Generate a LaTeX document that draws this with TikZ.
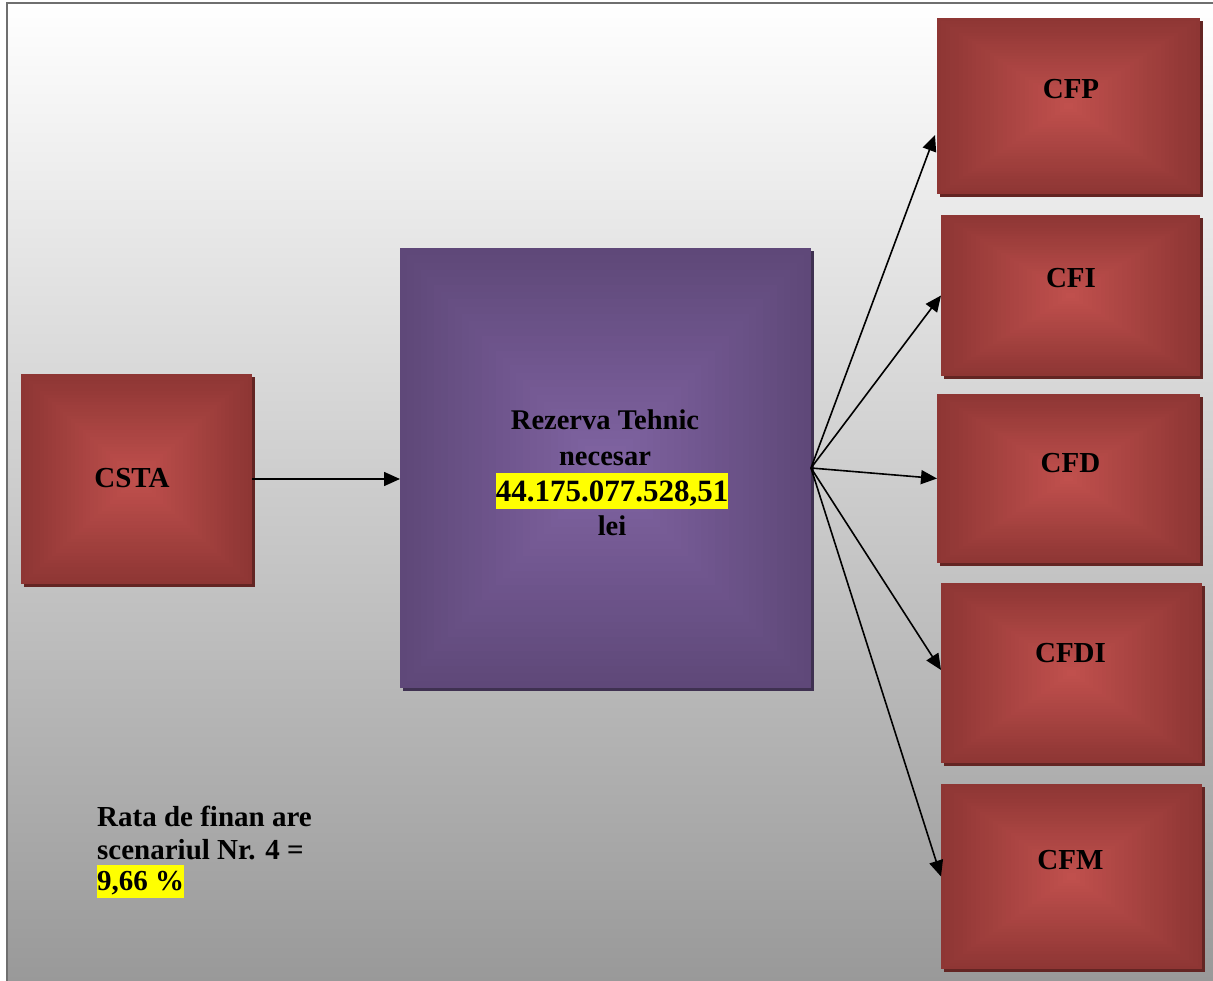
\documentclass[tikz,border=0pt]{standalone}
\usepackage{fontspec}
\setmainfont{Liberation Serif}
\usetikzlibrary{calc,arrows.meta}

\definecolor{redout}{HTML}{8E3634}
\definecolor{redin}{HTML}{C0504D}
\definecolor{redshadow}{HTML}{632523}
\definecolor{purout}{HTML}{5F4879}
\definecolor{purin}{HTML}{8064A2}
\definecolor{purshadow}{HTML}{3F3151}
\definecolor{framegray}{HTML}{6F6F6F}
\definecolor{bgmid}{HTML}{D6D6D6}
\definecolor{bgbot}{HTML}{999999}
\definecolor{hilite}{HTML}{FFFF00}

% drop shadow plus a rectangular (path-like) gradient from the rim to the centre
\newcommand\shadebox[4]{%
  \fill[#4] ([xshift=3pt,yshift=-3pt]#1.north west) rectangle ([xshift=3pt,yshift=-3pt]#1.south east);
  \foreach \k in {0,...,29}{
    \pgfmathsetmacro\shadefrac{\k/30}
    \pgfmathtruncatemacro\shadepct{100*\k/29}
    \fill[#3!\shadepct!#2] ($(#1.north west)!\shadefrac!(#1.center)$) rectangle ($(#1.south east)!\shadefrac!(#1.center)$);
  }}

\tikzset{
  panel/.style={rectangle, inner sep=0pt, outer sep=0pt},
  lbl/.style={font=\fontsize{29}{35}\selectfont\bfseries, inner sep=0pt, anchor=base},
  leftlbl/.style={lbl, anchor=base west},
  link/.style={line width=1.6pt, -{Triangle[length=16pt,width=14pt]}},
}

\begin{document}
\begin{tikzpicture}[x=1pt,y=-1pt]
\useasboundingbox (0,0) rectangle (1213,981);
\fill[white] (0,0) rectangle (1213,981);
\fill[top color=white, middle color=bgmid, bottom color=bgbot] (7,3) rectangle (1213,981);
\draw[framegray, line width=2.5pt] (7,981) -- (7,3) -- (1213,3);

% boxes
\node[panel, minimum width=231pt, minimum height=210pt] (csta) at (136.5,479) {};
\node[panel, minimum width=411pt, minimum height=440pt] (tech) at (605.5,468) {};
\node[panel, minimum width=263pt, minimum height=176pt] (cfp)  at (1068.5,106) {};
\node[panel, minimum width=259pt, minimum height=161pt] (cfi)  at (1070.5,295.5) {};
\node[panel, minimum width=263pt, minimum height=169pt] (cfd)  at (1068.5,478.5) {};
\node[panel, minimum width=261pt, minimum height=180pt] (cfdi) at (1071.5,673) {};
\node[panel, minimum width=261pt, minimum height=185pt] (cfm)  at (1071.5,876.5) {};

\shadebox{csta}{redout}{redin}{redshadow}
\shadebox{tech}{purout}{purin}{purshadow}
\shadebox{cfp}{redout}{redin}{redshadow}
\shadebox{cfi}{redout}{redin}{redshadow}
\shadebox{cfd}{redout}{redin}{redshadow}
\shadebox{cfdi}{redout}{redin}{redshadow}
\shadebox{cfm}{redout}{redin}{redshadow}

% box captions
\node[lbl] (csta-t) at (132,487) {CSTA};
\node[lbl] (cfp-t)  at (1071,99)  {CFP};
\node[lbl] (cfi-t)  at (1071,288) {CFI};
\node[lbl] (cfd-t)  at (1070.5,472) {CFD};
\node[lbl] (cfdi-t) at (1070.5,662) {CFDI};
\node[lbl] (cfm-t)  at (1070.5,869) {CFM};

\node[lbl, font=\fontsize{28.5}{34}\selectfont\bfseries] (rt1) at (605,429) {Rezerva Tehnic};
\node[lbl, font=\fontsize{28.5}{34}\selectfont\bfseries] (rt2) at (605,465) {necesar};
\node[lbl, font=\fontsize{31}{37}\selectfont\bfseries, fill=hilite, text height=28pt, text depth=8pt] (rt3) at (612,501) {44.175.077.528,51};
\node[lbl, font=\fontsize{28.5}{34}\selectfont\bfseries] (rt4) at (612,535) {lei};

% financing rate note
\node[leftlbl] (rate1) at (97,826) {Rata de finan are};
\node[leftlbl] (rate2) at (97,859) {scenariul Nr. 4 =};
\node[leftlbl, fill=hilite, text height=25pt, text depth=8pt] (rate3) at (97,890) {9,66 \%};

% connectors
\draw[link] (csta.east) -- (csta.east -| tech.west);
\draw[link] (tech.east) -- ([xshift=-2pt,yshift=-29pt]cfp.west);
\draw[link] (tech.east) -- (cfi.west);
\draw[link] (tech.east) -- (cfd.west);
\draw[link] (tech.east) -- ([yshift=3pt]cfdi.west);
\draw[link] (tech.east) -- (cfm.west);
\end{tikzpicture}
\end{document}
